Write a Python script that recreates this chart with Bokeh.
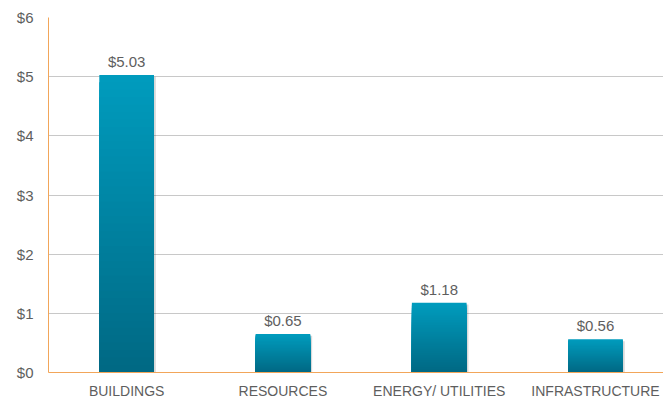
from bokeh.plotting import figure
from bokeh.models import Range1d, FixedTicker, ColumnDataSource
from bokeh.core.properties import value
from bokeh.embed import file_html
from bokeh.resources import INLINE

categories = ["BUILDINGS", "RESOURCES", "ENERGY/ UTILITIES", "INFRASTRUCTURE"]
values = [5.03, 0.65, 1.18, 0.56]
value_labels = ["$5.03", "$0.65", "$1.18", "$0.56"]
y_ticks = [0, 1, 2, 3, 4, 5, 6]
y_tick_labels = ["$0", "$1", "$2", "$3", "$4", "$5", "$6"]

FONT = "Liberation Sans"
TXT = "#5e5e5e"
TOP_C = (0x00, 0x9C, 0xBE)
BOT_C = (0x00, 0x68, 0x83)
N = 40
BAR_W = 0.35

xs = list(range(len(categories)))

p = figure(width=663, height=401, output_backend="svg", toolbar_location=None,
           x_range=Range1d(-0.5, len(categories) - 0.565), y_range=Range1d(0, 6),
           min_border_left=48, min_border_right=0, min_border_top=17, min_border_bottom=0)
p.outline_line_color = None
p.background_fill_color = "white"
p.border_fill_color = "white"

# shadow
p.vbar(x=[x + 0.012 for x in xs], width=BAR_W, top=[v - 0.03 for v in values], bottom=-0.03,
       fill_color="black", fill_alpha=0.15, line_color=None)

# gradient: draw from lightest (full height) down to darkest (shortest), each from the base
sx, sb, st, sc = [], [], [], []
for x, v in zip(xs, values):
    for i in range(N - 1, -1, -1):
        f1 = (i + 1) / N
        t = (i + 0.5) / N
        c = tuple(int(round(BOT_C[k] + (TOP_C[k] - BOT_C[k]) * t)) for k in range(3))
        sx.append(x)
        sb.append(0)
        st.append(v * f1)
        sc.append("#%02x%02x%02x" % c)
p.vbar(x=sx, width=BAR_W, bottom=sb, top=st, fill_color=sc, line_color=None)

src = ColumnDataSource(dict(x=xs, y=values, t=value_labels))
p.text(x="x", y="y", text="t", source=src, text_align="center", text_baseline="bottom",
       y_offset=-5, text_font=value(FONT), text_font_size="15px", text_color=TXT)

p.ygrid.ticker = FixedTicker(ticks=y_ticks)
p.ygrid.grid_line_color = "#c8c8c8"
p.ygrid.grid_line_width = 1
p.xgrid.grid_line_color = None

for ax in (p.xaxis[0], p.yaxis[0]):
    ax.axis_line_color = "#f2a65a"
    ax.major_tick_line_color = None
    ax.minor_tick_line_color = None
    ax.major_tick_out = 0
    ax.major_tick_in = 0
    ax.minor_tick_out = 0
    ax.minor_tick_in = 0
    ax.major_label_text_font = FONT
    ax.major_label_text_color = TXT

p.yaxis.ticker = FixedTicker(ticks=y_ticks)
p.yaxis.major_label_overrides = {t: l for t, l in zip(y_ticks, y_tick_labels)}
p.yaxis.major_label_text_font_size = "15px"
p.yaxis.major_label_standoff = 15

p.xaxis.ticker = FixedTicker(ticks=xs)
p.xaxis.major_label_overrides = {x: c for x, c in zip(xs, categories)}
p.xaxis.major_label_text_font_size = "14px"
p.xaxis.major_label_standoff = 10

open("out.html", "w").write(file_html(p, INLINE))
